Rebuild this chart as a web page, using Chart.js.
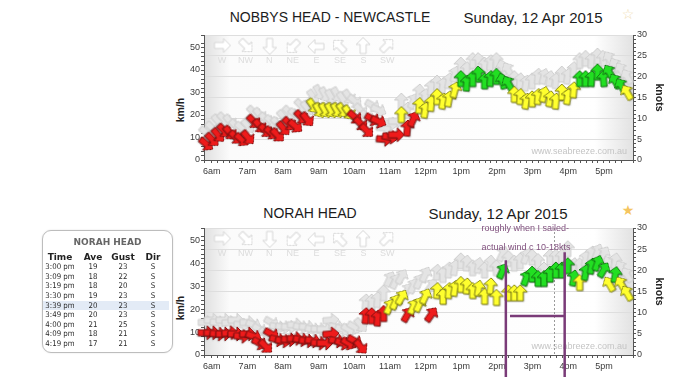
<!DOCTYPE html>
<html>
<head>
<meta charset="utf-8">
<script src="https://cdn.jsdelivr.net/npm/chart.js@4.4.1/dist/chart.umd.min.js"></script>
<style>
body{margin:0;width:700px;height:379px;overflow:hidden;background:#fff;position:relative;font-family:"Liberation Sans",Arial,sans-serif;}
.t{position:absolute;transform:translate(-50%,-50%);white-space:nowrap;color:#1c1c1c;}
.name{font-size:14px;}
.date{font-size:15px;}
.star{font-size:14px;font-family:"DejaVu Sans",sans-serif;}
.ax{position:absolute;transform:translate(-50%,-50%) rotate(-90deg);font-weight:bold;font-size:10.5px;color:#222;white-space:nowrap;}
canvas{position:absolute;}
#tbl{position:absolute;left:42px;top:230px;width:131px;height:123px;border:1px solid #bdbdbd;border-radius:9px;box-sizing:border-box;font-family:"DejaVu Sans",Verdana,sans-serif;box-shadow:0 0 2px rgba(0,0,0,.12);background:#fff;}
#tbl .ttl{position:absolute;left:0;right:0;top:6px;text-align:center;font-weight:bold;font-size:9px;line-height:10px;color:#666;}
#tbl table{position:absolute;left:0;top:21.6px;border-collapse:collapse;}
#tbl td,#tbl th{padding:0;height:9.6px;line-height:9.6px;text-align:center;white-space:nowrap;}
#tbl th{font-size:9px;font-weight:bold;color:#222;}
#tbl td{font-size:7.8px;font-stretch:condensed;color:#2a2a2a;}
#tbl tr.hl td{background:#e3ebf6;}
</style>
</head>
<body>
<div class="t name" style="left:330px;top:17px">NOBBYS HEAD - NEWCASTLE</div>
<div class="t date" style="left:533px;top:17px">Sunday, 12 Apr 2015</div>
<div class="t star" style="left:628px;top:14px;color:#f0dcb0">☆</div>
<div class="ax" style="left:180px;top:110px">km/h</div>
<canvas id="top" width="540" height="160" style="left:150px;top:25px"></canvas>

<div class="t name" style="left:310px;top:213px">NORAH HEAD</div>
<div class="t date" style="left:498px;top:213px">Sunday, 12 Apr 2015</div>
<div class="t star" style="left:628px;top:210px;color:#f5c560">★</div>
<div class="ax" style="left:180px;top:308px">km/h</div>
<canvas id="bottom" width="540" height="161" style="left:150px;top:218px"></canvas>

<div id="tbl">
  <div class="ttl">NORAH HEAD</div>
  <table id="obs"></table>
</div>

<script>
// 10 minute readings, speeds in km/h, direction = where the wind comes from (deg)
const times = ['5:50','6:00','6:10','6:20','6:30','6:40','6:50','7:00','7:10','7:20','7:30','7:40','7:50','8:00','8:10','8:20','8:30','8:40','8:50','9:00','9:10','9:20','9:30','9:40','9:50','10:00','10:10','10:20','10:30','10:40','10:50','11:00','11:10','11:20','11:30','11:40','11:50','12:00','12:10','12:20','12:30','12:40','12:50','13:00','13:10','13:20','13:30','13:40','13:50','14:00','14:10','14:20','14:30','14:40','14:50','15:00','15:10','15:20','15:30','15:40','15:50','16:00','16:10','16:20','16:30','16:40','16:50','17:00','17:10','17:20','17:30','17:40'];

const nobbysAvg = [7,9,11,13,12,10,9,10,17,15, 13,12,11,14,16,15,19,18,24,22, 22,22,22,22,21,19,16,13,18,17, 9,10,11,20,14,18,24,22,25,28, 26,27,31,36,34,36,38,35,36,37, 35,34,29,28,26,27,28,29,27,26, 30,28,31,36,36,36,39,36,39,35, 33,30];
const nobbysGust = [12,14,17,18,17,15,14,15,21,20, 18,17,16,19,21,20,24,23,28,30, 29,28,29,27,28,26,22,19,24,22, 14,16,17,26,22,26,30,28,32,34, 33,35,38,42,40,44,44,42,43,44, 41,40,36,35,34,35,37,37,36,35, 38,37,40,44,45,44,46,45,45,42, 40,37];
const nobbysDir = [310,315,320,315,320,315,310,320,315,320, 315,310,315,320,315,310,315,320,325,330, 330,330,330,325,325,310,315,315,300,295, 275,280,270,180,185,205,185,190,185,180, 190,190,195,180,185,180,175,180,185,180, 165,150,180,185,190,180,185,195,190,185, 180,190,185,180,180,185,180,175,150,150, 150,150];

const norahAvg = [9.5,9.5,9,9,9.5,9,8,9,8,5, 3.7,9,6.5,6,6.5,7,6.5,6,6,5, 5,9,6,5,5,6,3.5,17,17,16, 18,21,23,25,17.5,21,22,25.5,17.5,28, 25.5,28,29,30.7,30,28,29,25.5,30,25, 36.5,27,27,27,33.5,35.2,33.3,33.3,35.2,37, 37,38.9,33.5,31.5,36,38.7,40,37,31,35, 31,27];
const norahGust = [14,15,14,15,14,15,13,14,13,11, 9,14,12,12,12,13,12,12,11,11, 11,15,12,11,11,12,13,23,23,24, 27,33,32,34,28,30,32,35,30,36, 35,37,38,41,40,38,39,37,40,38, 44,42,40,41,43,42.6,40.7,37,42.6,42.6, 42.6,46.3,38.9,38.9,42,44,45,44,40,41, 38,35];
const norahDir = [270,270,275,270,265,270,275,270,290,300, 315,300,285,280,275,270,280,275,280,275, 270,265,280,290,300,300,320,185,180,185, 180,205,205,210,210,205,205,205,215,185, 180,185,190,180,185,180,190,180,185,180, 205,180,180,180,200,180,180,180,180,180, 180,180,190,180,190,190,200,210,150,190, 150,150];

// observation table (knots)
const obsTime = ['3:00 pm','3:09 pm','3:19 pm','3:30 pm','3:39 pm','3:49 pm','4:00 pm','4:09 pm','4:19 pm'];
const obsAve = [19,18,18,19,20,20,21,18,17];
const obsGust = [23,22,20,23,23,23,25,21,21];
const obsDir = ['S','S','S','S','S','S','S','S','S'];

const compass = ['W','NW','N','NE','E','SE','S','SW'];
const compassDeg = [270,315,0,45,90,135,180,225];

const sailedFrom = '14:15', sailedTo = '15:54';
const nowMarker = '15:36';
const KMH_PER_KT = 1.852;

function toMin(s) { const p = s.split(':'); return +p[0] * 60 + +p[1]; }

// build table
let html = '<tr><th style="width:34px">Time</th><th style="width:32px">Ave</th><th style="width:28px">Gust</th><th style="width:32px">Dir</th></tr>';
obsTime.forEach((t, i) => {
    html += '<tr' + (i === 4 ? ' class="hl"' : '') + '><td>' + t + '</td><td>' + obsAve[i] + '</td><td>' + obsGust[i] + '</td><td>' + obsDir[i] + '</td></tr>';
});
document.getElementById('obs').innerHTML = html;

function makeArrow(fill, line, shadow) {
    const c = document.createElement('canvas');
    c.width = 17; c.height = 19;
    const g = c.getContext('2d');
    g.beginPath();
    g.moveTo(8, 1); g.lineTo(15, 8); g.lineTo(11, 8); g.lineTo(11, 17);
    g.lineTo(5, 17); g.lineTo(5, 8); g.lineTo(1, 8); g.closePath();
    if (shadow) {
        g.shadowColor = 'rgba(0,0,0,0.35)';
        g.shadowOffsetX = 1; g.shadowOffsetY = 1; g.shadowBlur = 1.5;
    }
    g.fillStyle = fill; g.fill();
    g.shadowColor = 'transparent';
    g.strokeStyle = line; g.lineWidth = 1; g.stroke();
    return c;
}
const redArrow = makeArrow('#ee1b1b', '#8a1010', true);
const yellowArrow = makeArrow('#ffff2e', '#8a8a14', true);
const greenArrow = makeArrow('#22df22', '#137a13', true);
const grayArrow = makeArrow('#e4e4e4', '#cdcdcd', false);
const legendArrow = makeArrow('#ffffff', '#d6d6d6', false);

function arrowFor(kmh) {
    const kt = Math.round(kmh / KMH_PER_KT);
    if (kt >= 18) return greenArrow;
    if (kt >= 11) return yellowArrow;
    return redArrow;
}
function hourLabel(v) {
    const h = v / 60;
    if (h < 12) return h + 'am';
    if (h === 12) return '12pm';
    return (h - 12) + 'pm';
}

Chart.defaults.font.family = '"Liberation Sans", Arial, sans-serif';
Chart.defaults.font.size = 9;
Chart.defaults.color = '#3a3a3a';

const decoPlugin = {
    id: 'deco',
    beforeDraw(chart) {
        const {ctx, chartArea: a} = chart;
        const g = ctx.createLinearGradient(a.left, 0, a.right, 0);
        g.addColorStop(0, '#e0e0e0');
        g.addColorStop(0.06, '#fbfbfb');
        g.addColorStop(0.91, '#ffffff');
        g.addColorStop(1, '#e2e2e2');
        ctx.fillStyle = g;
        ctx.fillRect(a.left, a.top, a.right - a.left, a.bottom - a.top);
    },
    beforeDatasetsDraw(chart) {
        const {ctx, chartArea: a} = chart;
        ctx.save();
        // direction key
        compass.forEach((c, i) => {
            const cx = a.left + 18 + i * 23.6;
            ctx.save();
            ctx.translate(cx, a.top + 11);
            ctx.rotate((compassDeg[i] + 180) * Math.PI / 180);
            ctx.drawImage(legendArrow, -legendArrow.width / 2, -legendArrow.height / 2);
            ctx.restore();
            ctx.fillStyle = '#dcdcdc';
            ctx.font = '9px "Liberation Sans", Arial';
            ctx.textAlign = 'center';
            ctx.textBaseline = 'middle';
            ctx.fillText(c, cx, a.top + 26);
        });
        // watermark
        ctx.fillStyle = '#c4c4c4';
        ctx.font = '9px "Liberation Sans", Arial';
        ctx.textAlign = 'right';
        ctx.textBaseline = 'middle';
        ctx.fillText('www.seabreeze.com.au', a.right - 6, a.bottom - 8);
        ctx.restore();
    }
};

const markerPlugin = {
    id: 'marker',
    beforeDatasetsDraw(chart) {
        const {ctx, chartArea: a, scales: {x}} = chart;
        const mx = Math.round(x.getPixelForValue(toMin(nowMarker))) + 0.5;
        ctx.save();
        ctx.strokeStyle = '#9a9a9a';
        ctx.lineWidth = 1;
        ctx.setLineDash([2, 2]);
        ctx.beginPath(); ctx.moveTo(mx, a.top); ctx.lineTo(mx, a.bottom); ctx.stroke();
        ctx.restore();
    },
    afterDraw(chart) {
        const {ctx, scales: {x, y2}} = chart;
        const x1 = x.getPixelForValue(toMin(sailedFrom));
        const x2 = x.getPixelForValue(toMin(sailedTo));
        const bottom = chart.height - 2;
        ctx.save();
        ctx.strokeStyle = '#7a3b78';
        ctx.lineWidth = 2.5;
        ctx.beginPath();
        ctx.moveTo(x1, y2.getPixelForValue(22.4)); ctx.lineTo(x1, bottom);
        ctx.moveTo(x2, y2.getPixelForValue(24.3)); ctx.lineTo(x2, bottom);
        ctx.moveTo(x.getPixelForValue(862), y2.getPixelForValue(9.2));
        ctx.lineTo(x2, y2.getPixelForValue(9.2));
        ctx.stroke();
        ctx.fillStyle = '#80507e';
        ctx.font = '9px "Liberation Sans", Arial';
        ctx.textAlign = 'left';
        ctx.textBaseline = 'middle';
        const tx = x.getPixelForValue(814);
        ctx.fillText('roughly when I sailed-', tx, y2.getPixelForValue(29.8));
        ctx.fillText('actual wind c 10-18kts', tx, y2.getPixelForValue(25.3));
        ctx.restore();
    }
};

function makeChart(id, avg, gust, dir, xHeight, extra) {
    const pts = arr => arr.map((v, i) => ({x: toMin(times[i]), y: v}));
    const rot = ctx => ctx.dataIndex === undefined ? 0 : dir[ctx.dataIndex] + 180;
    return new Chart(document.getElementById(id), {
        type: 'scatter',
        data: {
            datasets: [{
                data: pts(avg),
                pointStyle: ctx => ctx.dataIndex === undefined ? redArrow : arrowFor(avg[ctx.dataIndex]),
                pointRotation: rot,
                clip: false
            }, {
                data: pts(gust),
                pointStyle: grayArrow,
                pointRotation: rot,
                clip: false
            }]
        },
        options: {
            responsive: false,
            animation: false,
            events: [],
            layout: {padding: {top: 10, left: 0, right: 0, bottom: 0}},
            plugins: {legend: {display: false}, tooltip: {enabled: false}},
            scales: {
                x: {
                    type: 'linear',
                    min: 347, max: 1069,
                    afterFit: s => { s.height = xHeight; },
                    ticks: {
                        stepSize: 10, autoSkip: false, maxRotation: 0, padding: 3,
                        callback: v => v % 60 === 0 ? hourLabel(v) : ''
                    },
                    grid: {drawOnChartArea: false, tickLength: 3, color: '#555'},
                    border: {color: '#555'}
                },
                y: {
                    position: 'left',
                    min: 0, max: 30 * KMH_PER_KT,
                    afterFit: s => { s.width = 54; },
                    ticks: {
                        stepSize: 2, autoSkip: false, padding: 1,
                        callback: v => v % 10 === 0 ? v : ''
                    },
                    grid: {drawOnChartArea: false, tickLength: 3, color: '#555'},
                    border: {color: '#555'}
                },
                y2: {
                    position: 'right',
                    min: 0, max: 30,
                    afterFit: s => { s.width = 57; },
                    ticks: {
                        stepSize: 1, autoSkip: false, padding: 1,
                        callback: v => v % 5 === 0 ? v : ''
                    },
                    grid: {
                        tickLength: 3,
                        tickColor: '#555',
                        color: ctx => (ctx.tick && ctx.tick.value % 5 === 0) ? '#dedede' : 'rgba(0,0,0,0)'
                    },
                    border: {color: '#555'},
                    title: {
                        display: true, text: 'knots', color: '#222',
                        font: {size: 10.5, weight: 'bold'},
                        padding: {top: 25, bottom: 0}
                    }
                }
            }
        },
        plugins: extra
    });
}

makeChart('top', nobbysAvg, nobbysGust, nobbysDir, 25, [decoPlugin]);
makeChart('bottom', norahAvg, norahGust, norahDir, 24, [decoPlugin, markerPlugin]);
</script>
</body>
</html>
